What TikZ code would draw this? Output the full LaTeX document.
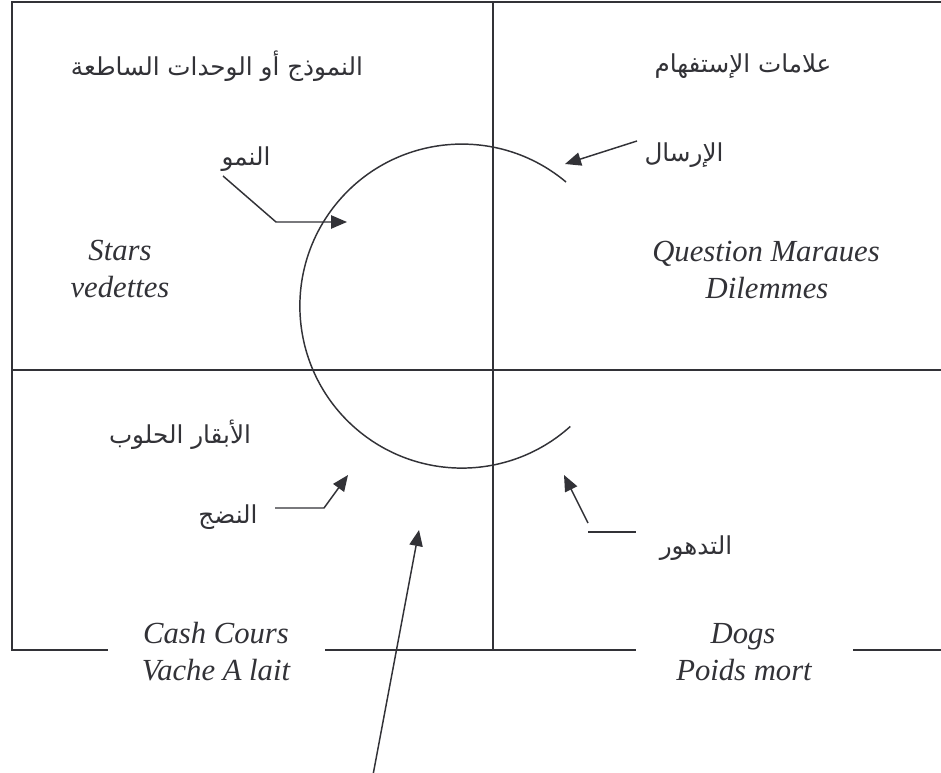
\documentclass[tikz,border=0pt]{standalone}
\usepackage{fontspec}
\setmainfont{Liberation Serif}
\newfontfamily\arabicfont[Script=Arabic]{DejaVu Sans}
\TeXXeTstate=1
\usetikzlibrary{arrows.meta}
\definecolor{ink}{RGB}{50,50,55}
\begin{document}
\begin{tikzpicture}[x=0.75pt,y=-0.75pt,
  ln/.style={draw=ink, line width=1.25pt},
  thin/.style={draw=ink, line width=1.1pt},
  arr/.style={thin, -{Triangle[length=12pt,width=10pt]}},
  lat/.style={font=\fontsize{23}{27}\selectfont\itshape, text=ink, inner sep=0pt, anchor=base},
  ar/.style={font=\arabicfont\fontsize{18.5}{22}\selectfont, text=ink, inner sep=0pt}]
\useasboundingbox (0,0) rectangle (941,773);
\fill[white] (0,0) rectangle (941,773);
% frame
\coordinate (TL) at (12,2); \coordinate (TR) at (941,2);
\coordinate (ML) at (12,370); \coordinate (MR) at (941,370);
\coordinate (VT) at (493,2); \coordinate (VB) at (493,650);
\coordinate (BL) at (12,650);
\coordinate (b1) at (108,650); \coordinate (b2) at (325,650);
\coordinate (b3) at (636,650); \coordinate (b4) at (853,650);
\coordinate (b5) at (941,650);
\draw[ln] (TR) -- (TL) -- (BL) -- (b1);
\draw[ln] (b2) -- (b3);
\draw[ln] (b4) -- (b5);
\draw[ln] (ML) -- (MR);
\draw[ln] (VT) -- (VB);
% cycle arc
\coordinate (arcS) at (566,182);
\draw[thin] (arcS) arc[start angle=-50, end angle=-312, radius=162];
% arabic labels
\node[ar] (lstar) at (217,66) {\beginR النموذج أو الوحدات الساطعة\endR};
\node[ar] (lques) at (743,66) {\beginR علامات الإستفهام\endR};
\node[ar] (lgrow) at (246,159) {\beginR النمو\endR};
\node[ar] (lsend) at (684,155) {\beginR الإرسال\endR};
\node[ar] (lcow) at (180,435) {\beginR الأبقار الحلوب\endR};
\node[ar] (lmat) at (228,517) {\beginR النضج\endR};
\node[ar] (ldec) at (696,548) {\beginR التدهور\endR};
% latin labels
\node[lat] (stars) at (120,261) {Stars};
\node[lat] (vedettes) at (120,297) {vedettes};
\node[lat] (quest) at (766,262) {Question Maraues};
\node[lat] (dil) at (767,298) {Dilemmes};
\node[lat] (cash) at (216,643) {Cash Cours};
\node[lat] (vache) at (216,680) {Vache A lait};
\node[lat] (dogs) at (743,643) {Dogs};
\node[lat] (poids) at (744,680) {Poids mort};
% arrows
\coordinate (g0) at (223,176); \coordinate (g1) at (276,222); \coordinate (g2) at (347,222);
\draw[arr] (g0) -- (g1) -- (g2);
\coordinate (s0) at (637,141); \coordinate (s1) at (565,164);
\draw[arr] (s0) -- (s1);
\coordinate (m0) at (275,508); \coordinate (m1) at (324,508); \coordinate (m2) at (348,475);
\draw[arr] (m0) -- (m1) -- (m2);
\coordinate (d0) at (588,523); \coordinate (d1) at (564,475);
\draw[arr] (d0) -- (d1);
\coordinate (d2) at (588,532); \coordinate (d3) at (636,532);
\draw[thin] (d2) -- (d3);
\coordinate (l0) at (373,775); \coordinate (l1) at (419,530);
\draw[arr] (l0) -- (l1);
\end{tikzpicture}
\end{document}
